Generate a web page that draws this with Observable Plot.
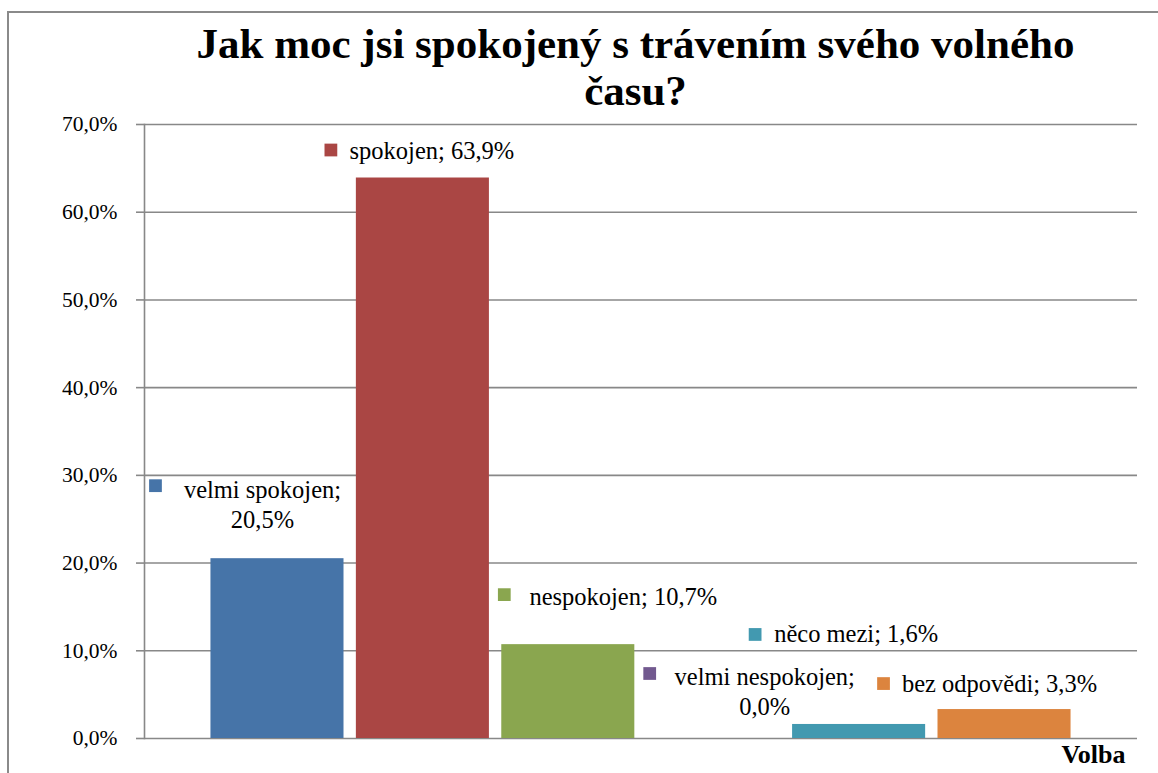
<!DOCTYPE html>
<html lang="cs">
<head>
<meta charset="utf-8">
<script src="https://cdn.jsdelivr.net/npm/d3@7"></script>
<script src="https://cdn.jsdelivr.net/npm/@observablehq/plot@0.6"></script>
<style>
  body { margin: 0; background: #fff; font-family: "Liberation Serif", "Times New Roman", Tinos, serif; }
  .wrap { margin-left: 7px; margin-top: 11px; border-left: 2px solid #8a8a8a; border-top: 2px solid #8a8a8a; width: 1149px; height: 760px; overflow: hidden; }
  .title { margin-left: 125px; width: 1003px; height: 92px; padding-top: 7px; text-align: center; font-weight: bold; font-size: 43px; line-height: 47px; color: #000; white-space: nowrap; }
</style>
</head>
<body>
<div class="wrap">
<div class="title">Jak moc jsi spokojený s trávením svého volného<br>času?</div>
<div id="chart"></div>
</div>
<script>
// ---- data ----
const categories = ["velmi spokojen", "spokojen", "nespokojen", "velmi nespokojen", "něco mezi", "bez odpovědi"];
const values = [20.5, 63.9, 10.7, 0.0, 1.6, 3.3];
const colors = ["#4674A8", "#AA4644", "#8AA64F", "#72598F", "#4299B0", "#DC843E"];
const yTicks = [0, 10, 20, 30, 40, 50, 60, 70];
const xLabel = "Volba";

// ---- label layout (pixel offsets from bar top centre) ----
const labelLayout = [
  {br: true,  tdx: -15, tdy: -55, sdx: -122, sdy: -73},
  {br: false, tdx: 9,   tdy: -29, sdx: -92,  sdy: -28},
  {br: false, tdx: 55,  tdy: -49, sdx: -64,  sdy: -50},
  {br: true,  tdx: 51,  tdy: -48, sdx: -64,  sdy: -65},
  {br: false, tdx: -3,  tdy: -92, sdx: -104, sdy: -90},
  {br: false, tdx: -5,  tdy: -27, sdx: -121, sdy: -26}
];

const FONT = "Liberation Serif, Times New Roman, Tinos, serif";
const fmt = v => d3.format(".1f")(v).replace(".", ",") + "%";
const data = categories.map((c, i) => ({
  cat: c,
  value: values[i],
  label: c + ";" + (labelLayout[i].br ? "\n" : " ") + fmt(values[i])
}));

const labelMarks = data.flatMap((d, i) => [
  Plot.dot([d], {x: "cat", y: "value", dx: labelLayout[i].sdx, dy: labelLayout[i].sdy, symbol: "square", r: 7.2, fill: "cat"}),
  Plot.text([d], {x: "cat", y: "value", text: "label", dx: labelLayout[i].tdx, dy: labelLayout[i].tdy, fontSize: 24.5, fontFamily: FONT, lineHeight: 1.22, fill: "#000"})
]);

const chart = Plot.plot({
  width: 1149,
  height: 661,
  marginTop: 12,
  marginBottom: 35,
  marginLeft: 135,
  marginRight: 21,
  style: "font-family: 'Liberation Serif', 'Times New Roman', serif; font-size: 22px; background: transparent; color: #000; overflow: visible;",
  x: {type: "band", domain: categories, paddingInner: 0.085, paddingOuter: 0.457, round: false, axis: null},
  y: {domain: [0, 70], axis: null},
  color: {domain: categories, range: colors},
  marks: [
    Plot.gridY(yTicks, {stroke: "#888", strokeOpacity: 1, strokeWidth: 1.6}),
    Plot.axisY(yTicks, {tickSize: 8, tickPadding: 19, tickFormat: fmt, stroke: "#888", strokeWidth: 1.6, strokeOpacity: 1, fill: "#000", fontSize: 21.5, fontFamily: FONT, label: null}),
    Plot.barY(data, {x: "cat", y: "value", fill: "cat"}),
    Plot.frame({anchor: "left", stroke: "#888", strokeWidth: 1.6}),
    ...labelMarks,
    Plot.text([xLabel], {frameAnchor: "bottom-right", dx: -12, dy: 24, fontWeight: "bold", fontSize: 26, fontFamily: FONT, fill: "#000", textAnchor: "end"})
  ]
});
document.getElementById("chart").appendChild(chart);
</script>
</body>
</html>
